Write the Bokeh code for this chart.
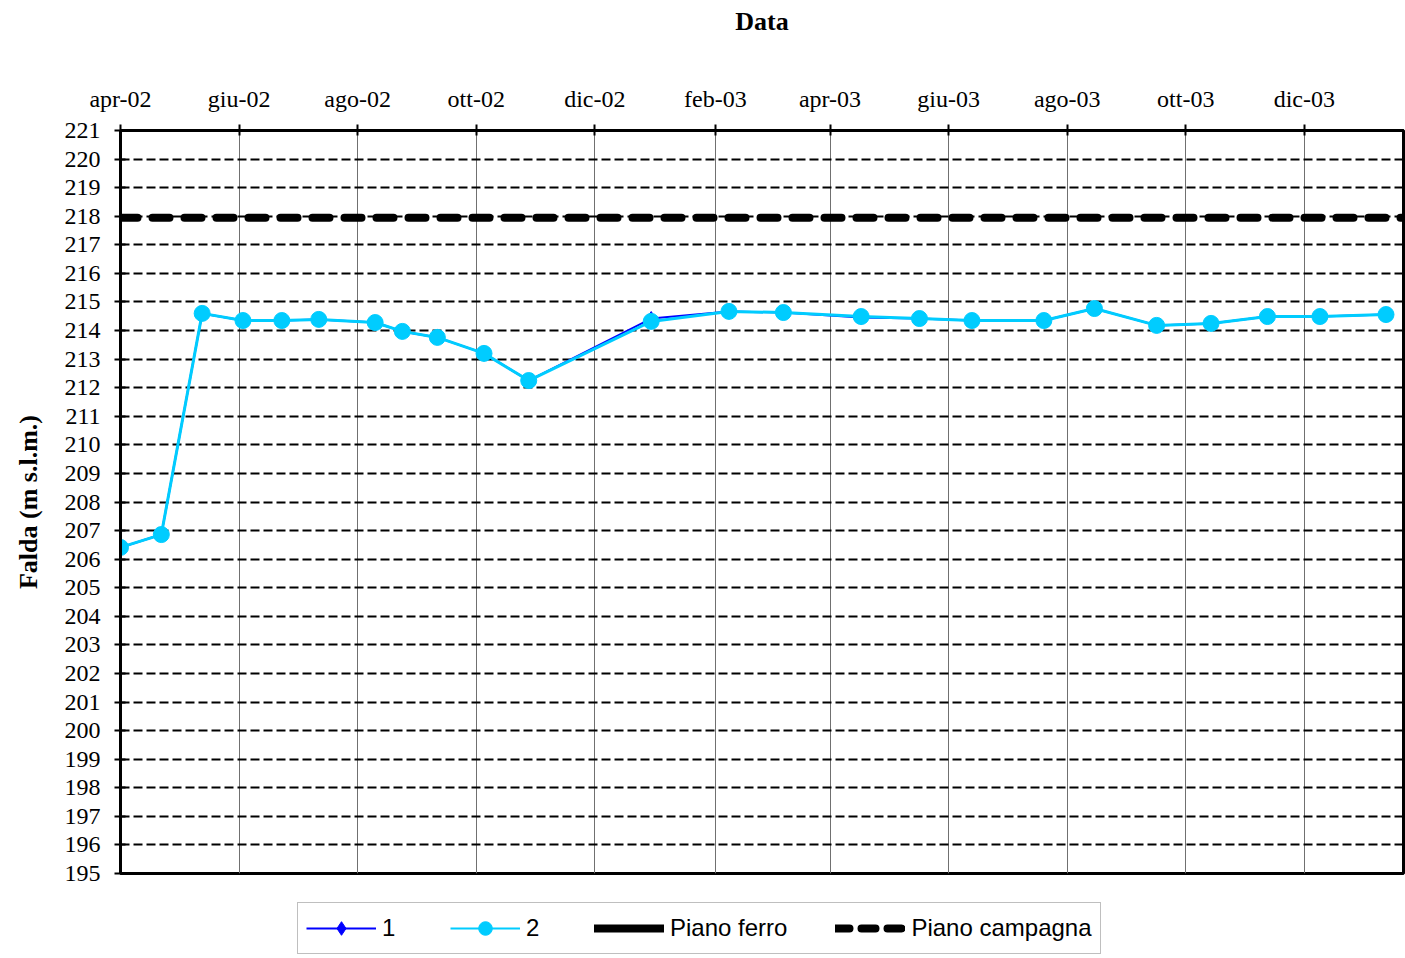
import pandas as pd
from bokeh.plotting import figure
from bokeh.layouts import column
from bokeh.models import FixedTicker, Legend, LegendItem, Range1d
from bokeh.embed import file_html
from bokeh.resources import INLINE

# ---------------- data ----------------
dates = ["2002-04-01", "2002-04-22", "2002-05-13", "2002-06-03", "2002-06-23",
         "2002-07-12", "2002-08-10", "2002-08-24", "2002-09-11", "2002-10-05",
         "2002-10-28", "2002-12-30", "2003-02-08", "2003-03-08", "2003-04-17",
         "2003-05-17", "2003-06-13", "2003-07-20", "2003-08-15", "2003-09-16",
         "2003-10-14", "2003-11-12", "2003-12-09", "2004-01-12"]
serie_1 = [206.41, 206.86, 214.60, 214.35, 214.35, 214.39, 214.28, 213.97, 213.76,
           213.20, 212.25, 214.42, 214.67, 214.63, 214.46, 214.42, 214.35, 214.35,
           214.77, 214.18, 214.25, 214.49, 214.49, 214.56]
serie_2 = [206.41, 206.86, 214.60, 214.35, 214.35, 214.39, 214.28, 213.97, 213.76,
           213.20, 212.25, 214.32, 214.67, 214.63, 214.49, 214.42, 214.35, 214.35,
           214.77, 214.18, 214.25, 214.49, 214.49, 214.56]
piano_ferro = 222.5          # outside the visible range (not shown in the plot)
piano_campagna = 217.95
x_start, x_end = "2002-04-01", "2004-01-21"
tick_dates = ["2002-04-01", "2002-06-01", "2002-08-01", "2002-10-01", "2002-12-01",
              "2003-02-01", "2003-04-01", "2003-06-01", "2003-08-01", "2003-10-01",
              "2003-12-01"]
tick_labels = ["apr-02", "giu-02", "ago-02", "ott-02", "dic-02", "feb-03",
               "apr-03", "giu-03", "ago-03", "ott-03", "dic-03"]
y_ticks = list(range(195, 222))
series_names = ["1", "2", "Piano ferro", "Piano campagna"]

# ---------------- styles ----------------
BLUE, CYAN = "#0000FF", "#00CCFF"
serif = "Liberation Serif"

# ---------------- main figure ----------------
x = pd.to_datetime(dates)
xs, xe = pd.Timestamp(x_start), pd.Timestamp(x_end)

p = figure(width=1405, height=887, x_axis_type="datetime", x_axis_location="above",
           x_range=Range1d(xs, xe), y_range=Range1d(195, 221),
           output_backend="svg", toolbar_location=None,
           min_border_left=120, min_border_right=2, min_border_top=130,
           min_border_bottom=14)

tick_ms = [int(pd.Timestamp(d).value // 10**6) for d in tick_dates]
p.xaxis.ticker = FixedTicker(ticks=tick_ms)
p.xaxis.major_label_overrides = {t: l for t, l in zip(tick_ms, tick_labels)}
p.yaxis.ticker = FixedTicker(ticks=y_ticks)

for ax in (p.xaxis, p.yaxis):
    ax.axis_line_color = "black"
    ax.axis_line_width = 3
    ax.major_tick_line_color = "black"
    ax.major_tick_line_width = 2
    ax.major_tick_in = 5
    ax.major_tick_out = 6
    ax.minor_tick_line_color = None
    ax.major_label_text_font = serif
    ax.major_label_text_font_size = "24px"
    ax.major_label_text_color = "black"
    ax.axis_label_text_font = serif
    ax.axis_label_text_font_size = "26px"
    ax.axis_label_text_font_style = "bold"
    ax.axis_label_text_color = "black"

p.xaxis.axis_label = "Data"
p.xaxis.major_label_standoff = 13
p.xaxis.axis_label_standoff = 47
p.yaxis.axis_label = "Falda (m s.l.m.)"
p.yaxis.major_label_standoff = 14
p.yaxis.axis_label_standoff = 19

p.xgrid.grid_line_color = "#707070"
p.xgrid.grid_line_width = 1
p.ygrid.grid_line_color = "black"
p.ygrid.grid_line_width = 2.2
p.ygrid.grid_line_dash = "9 4"

p.outline_line_color = "black"
p.outline_line_width = 3
p.background_fill_color = "white"
p.border_fill_color = "white"

p.line([xs, xe], [piano_ferro, piano_ferro], line_color="black", line_width=8)
p.line([xs, xe], [piano_campagna, piano_campagna], line_color="black",
       line_width=8, line_dash="17 15", line_cap="round")
p.line(x, serie_1, line_color=BLUE, line_width=2)
p.scatter(x, serie_1, marker="diamond", size=14, fill_color=BLUE, line_color=BLUE)
p.line(x, serie_2, line_color=CYAN, line_width=3)
p.scatter(x, serie_2, marker="circle", size=16, fill_color=CYAN, line_color=CYAN)

# ---------------- legend strip (below the chart) ----------------
lg = figure(width=1405, height=71, output_backend="svg", toolbar_location=None,
            x_axis_location=None, y_axis_location=None,
            x_range=Range1d(0, 1), y_range=Range1d(0, 1),
            min_border_left=0, min_border_right=0, min_border_top=0,
            min_border_bottom=0)
lg.grid.visible = False
lg.outline_line_color = None
lg.background_fill_color = "white"
lg.border_fill_color = "white"

# proxy renderers (outside the strip's visible range) used only for the legend
px, py = [5, 6], [5, 5]
l1 = lg.line(px, py, line_color=BLUE, line_width=2)
m1 = lg.scatter(px, py, marker="diamond", size=18, fill_color=BLUE, line_color=BLUE)
l2 = lg.line(px, py, line_color=CYAN, line_width=2)
m2 = lg.scatter(px, py, marker="circle", size=15, fill_color=CYAN, line_color=CYAN)
lf = lg.line(px, py, line_color="black", line_width=8, line_cap="round")
lc = lg.line(px, py, line_color="black", line_width=8, line_dash="14 12",
             line_cap="round")

legend = Legend(items=[
    LegendItem(label=series_names[0], renderers=[l1, m1]),
    LegendItem(label=series_names[1], renderers=[l2, m2]),
    LegendItem(label=series_names[2], renderers=[lf]),
    LegendItem(label=series_names[3], renderers=[lc]),
], orientation="horizontal", location=(177, 4), nrows=1)
legend.label_text_font = "Liberation Sans"
legend.label_text_font_size = "24px"
legend.label_text_color = "black"
legend.glyph_width = 70
legend.glyph_height = 34
legend.label_standoff = 6
legend.spacing = 48
legend.padding = 8
legend.margin = 0
legend.border_line_color = "#808080"
legend.border_line_width = 1.5
legend.background_fill_alpha = 1
lg.add_layout(legend, "center")

layout = column(p, lg, spacing=0)
open("out.html", "w").write(file_html(layout, INLINE))
